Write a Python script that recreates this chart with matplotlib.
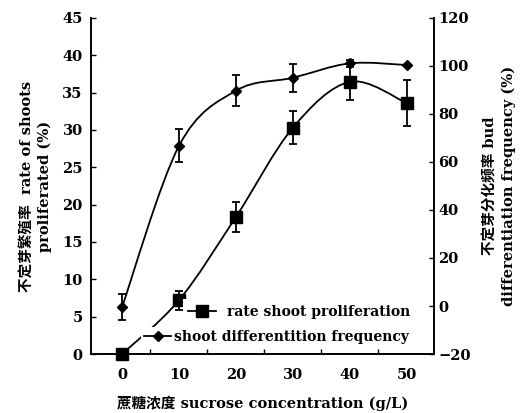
import matplotlib
matplotlib.use("Agg")
import matplotlib.pyplot as plt
from matplotlib.path import Path
from matplotlib.patches import PathPatch
from matplotlib.lines import Line2D
import numpy as np

# ---- data ----
sucrose = [0, 10, 20, 30, 40, 50]
prolif = [0.0, 7.2, 18.35, 30.3, 36.45, 33.6]
prolif_err = [0.0, 1.3, 2.0, 2.2, 2.4, 3.1]
diff_freq = [-0.5, 66.7, 89.7, 95.1, 101.1, 100.4]
diff_err = [5.3, 6.9, 6.4, 5.9, 1.4, 0.0]
x_ticks = [0, 10, 20, 30, 40, 50]
x_minor = [5, 15, 25, 35, 45]
left_ticks = [0, 5, 10, 15, 20, 25, 30, 35, 40, 45]
right_ticks = [-20, 0, 20, 40, 60, 80, 100, 120]

FAM = ['DejaVu Serif', 'Noto Sans CJK SC']
plt.rcParams['font.family'] = FAM
plt.rcParams['font.weight'] = 'bold'

fig = plt.figure(figsize=(5.24, 4.13), dpi=100)
ax = fig.add_axes([91/524, 1-354/413, (434.3-91)/524, (354-18)/413])
ax2 = ax.twinx()


def smooth_path(xs, ys):
    pts = np.column_stack([xs, ys]).astype(float)
    n = len(pts)
    verts = [pts[0]]
    codes = [Path.MOVETO]
    for i in range(n - 1):
        p0 = pts[i - 1] if i > 0 else pts[i]
        p1 = pts[i]
        p2 = pts[i + 1]
        p3 = pts[i + 2] if i + 2 < n else pts[i + 1]
        c1 = p1 + (p2 - p0) / 6.0
        c2 = p2 - (p3 - p1) / 6.0
        verts += [c1, c2, p2]
        codes += [Path.CURVE4] * 3
    return Path(verts, codes)


lw = 1.3
ax.add_patch(PathPatch(smooth_path(sucrose, prolif), fill=False, lw=lw, color='black'))
ax.errorbar(sucrose, prolif, yerr=prolif_err, fmt='s', color='black', ms=8,
            ecolor='black', elinewidth=1.3, capsize=3, capthick=1.3, clip_on=False, zorder=3)

ax2.add_patch(PathPatch(smooth_path(sucrose, diff_freq), fill=False, lw=lw, color='black'))
ax2.errorbar(sucrose, diff_freq, yerr=diff_err, fmt='D', color='black', ms=5,
             ecolor='black', elinewidth=1.3, capsize=3, capthick=1.3, clip_on=False, zorder=3)

ax.set_xlim(-5.45, 54.85)
ax.set_ylim(0, 45)
ax2.set_ylim(-20, 120)

ax.set_xticks(x_ticks)
ax.set_xticks(x_minor, minor=True)
ax.set_yticks(left_ticks)
ax2.set_yticks(right_ticks)
ax2.set_yticklabels(['\u221220' if t < 0 else str(t) for t in right_ticks])

ax.tick_params(axis='x', which='major', length=0, pad=10, labelsize=10.5)
ax.tick_params(axis='x', which='minor', direction='in', length=3.5, width=1)
ax.tick_params(axis='y', direction='in', length=3.5, width=1, pad=6, labelsize=10.5)
ax2.tick_params(axis='y', direction='in', length=3.5, width=1, pad=3, labelsize=10.5)

for a in (ax, ax2):
    a.spines['top'].set_visible(False)
    for s in ('left', 'right', 'bottom'):
        a.spines[s].set_linewidth(1.2)

ax.set_xlabel('蔗糖浓度 sucrose concentration (g/L)', fontsize=10.5, fontweight='bold', labelpad=10)
ax.set_ylabel('不定芽繁殖率  rate of shoots\nproliferated (%)', fontsize=10.5, fontweight='bold',
              labelpad=7, linespacing=1.3)
ax2.set_ylabel('不定芽分化频率 bud\ndifferentiation frequency (%)', fontsize=10.5, fontweight='bold',
               rotation=90, labelpad=9, linespacing=1.4)

h1 = Line2D([], [], color='black', marker='s', ms=8, lw=lw)
h2 = Line2D([], [], color='black', marker='D', ms=5, lw=lw)
leg1 = ax2.legend([h1], ['rate shoot proliferation'], loc='center right',
                  bbox_to_anchor=(416/524, 1-312/413), bbox_transform=fig.transFigure,
                  borderaxespad=0, frameon=True, fancybox=False, framealpha=1,
                  edgecolor='none', facecolor='white', handlelength=2.0, handletextpad=0.8,
                  prop={'family': FAM, 'weight': 'bold', 'size': 10})
ax2.add_artist(leg1)
leg2 = ax2.legend([h2], ['shoot differentition frequency'], loc='center right',
                  bbox_to_anchor=(412/524, 1-337/413), bbox_transform=fig.transFigure,
                  borderaxespad=0, borderpad=0.25, frameon=True, fancybox=False, framealpha=1,
                  edgecolor='none', facecolor='white', handlelength=1.9, handletextpad=0.2,
                  prop={'family': FAM, 'weight': 'bold', 'size': 10})

fig.savefig('out.png', dpi=100)
